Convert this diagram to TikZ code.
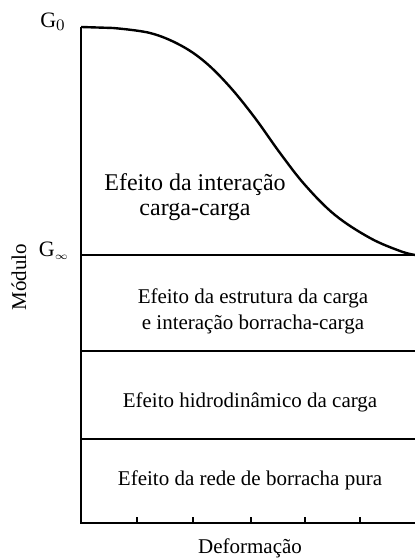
\documentclass[tikz,border=0pt]{standalone}
\usepackage{fontspec}
\setmainfont{Liberation Serif}
\tikzset{
  lbl/.style={align=center, inner sep=0pt, font=\fontsize{10.5}{13}\selectfont},
  axis/.style={line width=1.4pt},
  band/.style={line width=1.2pt},
}
\begin{document}
\begin{tikzpicture}[x=0.5pt, y=-0.5pt]
          \useasboundingbox (0,0) rectangle (415,560);
          % axes
          \coordinate (top) at (81,27);
          \coordinate (org) at (81,523);
          \coordinate (xend) at (415,523);
          \draw[axis] (top) -- (org) -- (xend);
          \foreach \x in {137,193,251,305,360}
            \draw[line width=0.7pt] (\x,523) -- (\x,517);
          % bands
          \coordinate (ginf) at (81,255);
          \coordinate (ginfr) at (415,255);
          \coordinate (b2) at (81,351);
          \coordinate (b2r) at (415,351);
          \coordinate (b3) at (81,439);
          \coordinate (b3r) at (415,439);
          \draw[band] (ginf) -- (ginfr);
          \draw[band] (b2) -- (b2r);
          \draw[band] (b3) -- (b3r);
          % curve
          \coordinate (flat) at (113,28);
          \draw[line width=1.2pt] (top) -- (flat);
          \draw[line width=1.2pt] plot[smooth, tension=0.6] coordinates
            {(113,28) (150,33) (180,45) (205,62) (230,87) (255,118) (280,153)
             (305,185) (335,215) (370,238) (400,251) (415,255)};
          % labels
          \node[lbl, font=\fontsize{11}{13}\selectfont] (g0) at (53,22) {G$_{\scriptstyle 0}$};
          \node[lbl, font=\fontsize{11}{13}\selectfont] (gi) at (54,251) {G$_{\scriptscriptstyle\infty}$};
          \node[lbl, rotate=90] (ylab) at (19,277) {Módulo};
          \node[lbl] (xlab) at (250,548) {Deformação};
          \node[lbl, font=\fontsize{12}{12.5}\selectfont] (t1) at (195,197) {Efeito da interação\\carga-carga};
          \node[lbl] (t2) at (253,311) {Efeito da estrutura da carga\\e interação borracha-carga};
          \node[lbl] (t3) at (250,402) {Efeito hidrodinâmico da carga};
          \node[lbl] (t4) at (250,480) {Efeito da rede de borracha pura};
        \end{tikzpicture}
\end{document}
